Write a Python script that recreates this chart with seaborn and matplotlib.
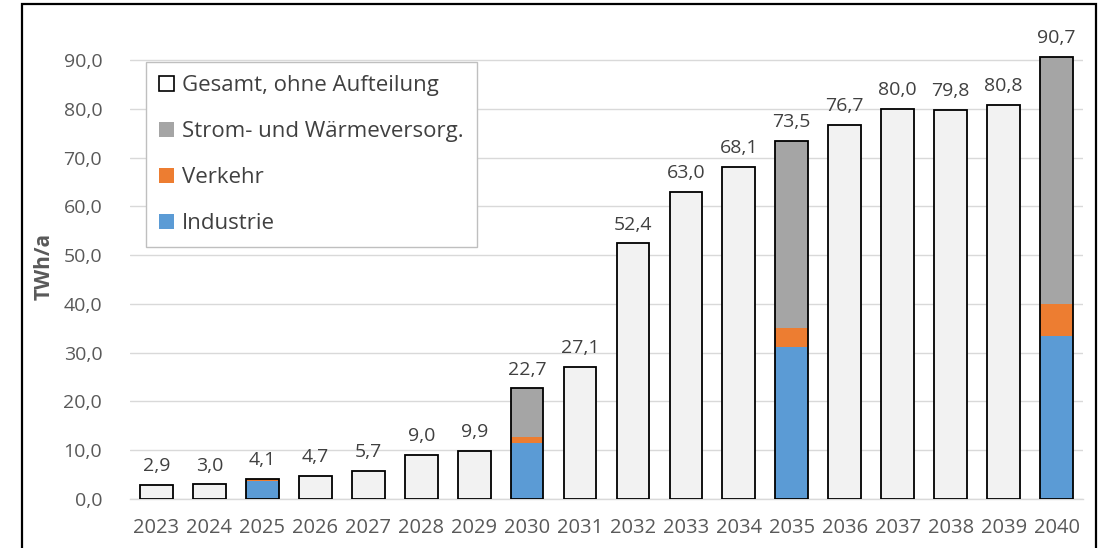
import numpy as np
import pandas as pd
import seaborn as sns
import matplotlib.pyplot as plt
from matplotlib.patches import Patch, Rectangle

# Data
years = [str(y) for y in range(2023, 2041)]
gesamt = [2.9, 3.0, 4.1, 4.7, 5.7, 9.0, 9.9, 22.7, 27.1, 52.4,
          63.0, 68.1, 73.5, 76.7, 80.0, 79.8, 80.8, 90.7]
# breakdown only given for 2025, 2030, 2035, 2040 (0 elsewhere)
industrie = [0, 0, 3.6, 0, 0, 0, 0, 11.4, 0, 0, 0, 0, 31.1, 0, 0, 0, 0, 33.5]
verkehr = [0, 0, 0.5, 0, 0, 0, 0, 1.3, 0, 0, 0, 0, 3.9, 0, 0, 0, 0, 6.4]
strom = [0, 0, 0.0, 0, 0, 0, 0, 10.0, 0, 0, 0, 0, 38.5, 0, 0, 0, 0, 50.8]

df = pd.DataFrame({'Jahr': years, 'Gesamt': gesamt, 'Industrie': industrie,
                   'Verkehr': verkehr, 'Strom': strom})
df['lvl_verkehr'] = df['Industrie'] + df['Verkehr']
df['lvl_strom'] = df['lvl_verkehr'] + df['Strom']

sns.set_theme(style="white")
plt.rcParams['font.family'] = ['Open Sans', 'DejaVu Sans']

c_light = '#f2f2f2'
c_grey = '#a5a5a5'
c_orange = '#ed7d31'
c_blue = '#5b9bd5'
c_text = '#404040'
c_tick = '#595959'
fs = 14
W, H = 1102, 548

fig = plt.figure(figsize=(W / 100, H / 100), dpi=100)
ax = fig.add_axes([130 / W, 49 / H, (1083 - 130) / W, 478 / H])

bw = 0.62
sns.barplot(data=df, x='Jahr', y='Gesamt', color=c_light, saturation=1, width=bw,
            linewidth=0, errorbar=None, ax=ax, zorder=2)
sns.barplot(data=df, x='Jahr', y='lvl_strom', color=c_grey, saturation=1, width=bw,
            linewidth=0, errorbar=None, ax=ax, zorder=2)
sns.barplot(data=df, x='Jahr', y='lvl_verkehr', color=c_orange, saturation=1, width=bw,
            linewidth=0, errorbar=None, ax=ax, zorder=2)
sns.barplot(data=df, x='Jahr', y='Industrie', color=c_blue, saturation=1, width=bw,
            linewidth=0, errorbar=None, ax=ax, zorder=2)
# outline of the total bars
sns.barplot(data=df, x='Jahr', y='Gesamt', fill=False, color='black', width=bw,
            linewidth=1.3, errorbar=None, ax=ax, zorder=3)

# value labels
for i, v in enumerate(gesamt):
    ax.text(i, v + 2.0, f"{v:.1f}".replace('.', ','), ha='center', va='bottom',
            fontsize=fs, color=c_text)

ax.set_ylim(0, 98)
ax.set_xlim(-0.5, len(years) - 0.5)
yt = np.arange(0, 91, 10)
ax.set_yticks(yt)
ax.set_yticklabels([f"{t:.1f}".replace('.', ',') for t in yt])
ax.yaxis.grid(True, color='#d9d9d9', linewidth=1.0, zorder=0)
ax.set_axisbelow(True)
for s in ['top', 'right', 'left']:
    ax.spines[s].set_visible(False)
ax.spines['bottom'].set_color('#d9d9d9')
ax.spines['bottom'].set_linewidth(1.0)
ax.tick_params(axis='both', length=0, labelsize=fs, labelcolor=c_tick)
ax.tick_params(axis='x', labelsize=14.5, pad=14)
ax.tick_params(axis='y', pad=20)
ax.set_xlabel('')
ax.set_ylabel('TWh/a', fontsize=15, fontweight='bold', color=c_tick)
ax.yaxis.set_label_coords(-0.079, 0.487)

handles = [Patch(facecolor='white', edgecolor='black', linewidth=1.2),
           Patch(facecolor=c_grey, edgecolor='none'),
           Patch(facecolor=c_orange, edgecolor='none'),
           Patch(facecolor=c_blue, edgecolor='none')]
labels = ['Gesamt, ohne Aufteilung', 'Strom- und Wärmeversorg.', 'Verkehr', 'Industrie']
leg = fig.legend(handles, labels, loc='upper left',
                 bbox_to_anchor=(146 / W, 1 - 62 / H), borderaxespad=0, fontsize=16,
                 handlelength=0.65, handleheight=0.65, handletextpad=0.35,
                 labelspacing=1.12, borderpad=0.6, fancybox=False, frameon=True,
                 edgecolor='#bfbfbf', framealpha=1)
leg.get_frame().set_linewidth(1.0)
for t in leg.get_texts():
    t.set_color(c_text)

# outer frame of the figure
fig.patches.append(Rectangle((22 / W, -0.05), (1096 - 22) / W, 1.05 - 4 / H,
                             transform=fig.transFigure, fill=False,
                             edgecolor='black', linewidth=1.6))

fig.savefig('out.png', dpi=100)
